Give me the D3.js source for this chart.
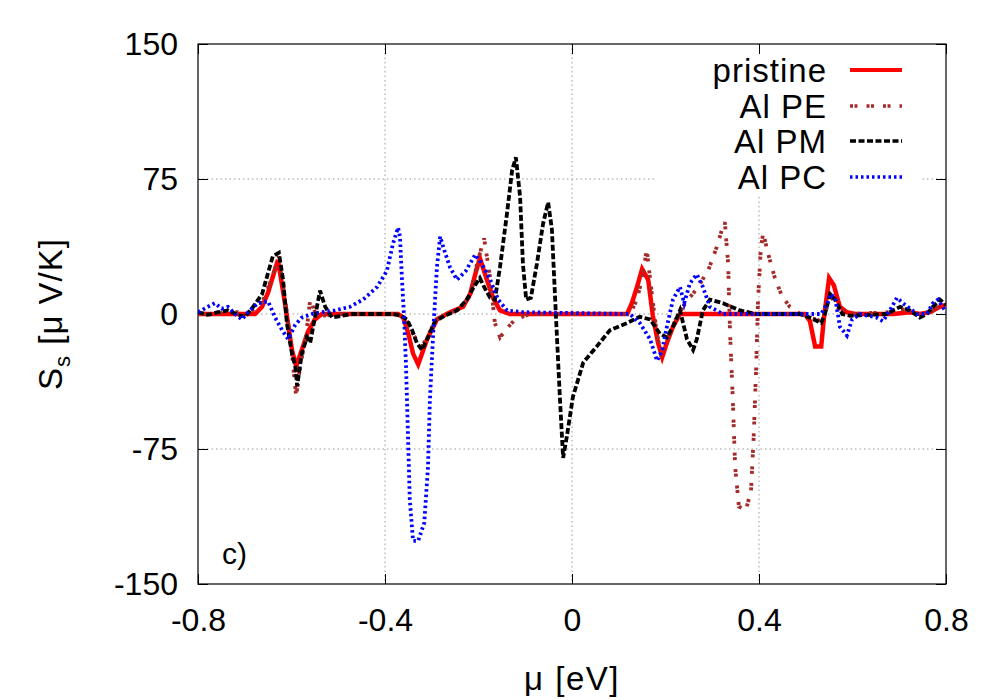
<!DOCTYPE html>
<html>
<head>
<meta charset="utf-8">
<script src="https://cdn.jsdelivr.net/npm/d3@7"></script>
<style>
  html, body { margin: 0; padding: 0; background: #fff; }
  svg { display: block; font-family: "Liberation Sans", Arial, Helvetica, sans-serif; }
</style>
</head>
<body>
<svg id="chart" width="1000" height="700"></svg>
<script>
// ---- data ----
const xTicks = [-0.8, -0.4, 0, 0.4, 0.8];
const yTicks = [-150, -75, 0, 75, 150];
const seriesNames = ["pristine", "Al PE", "Al PM", "Al PC"];

const muPristine = [-0.800,-0.678,-0.663,-0.650,-0.642,-0.629,-0.614,-0.599,-0.590,-0.578,-0.565,-0.550,-0.535,-0.372,-0.361,-0.351,-0.340,-0.329,-0.310,-0.289,-0.261,-0.233,-0.218,-0.207,-0.197,-0.182,-0.169,-0.154,-0.133,0.118,0.128,0.139,0.150,0.163,0.173,0.184,0.193,0.203,0.216,0.231,0.498,0.509,0.520,0.533,0.539,0.550,0.560,0.573,0.588,0.605,0.687,0.723,0.744,0.766,0.787,0.800];
const sPristine  = [0,0,4,12,19,30,6,-20,-29,-20,-10,-3,0,0,-2,-10,-22,-28,-14,-3,1,4,11,22,31,19,9,2,0,0,6,15,25,19,-1,-16,-24,-16,-7,0,0,-4,-18,-18,-2,20,16,4,1,0,0,1,0,1,4,5];

const muPE = [-0.800,-0.732,-0.689,-0.663,-0.642,-0.627,-0.612,-0.599,-0.590,-0.582,-0.569,-0.560,-0.548,-0.535,-0.496,-0.368,-0.353,-0.332,-0.321,-0.308,-0.291,-0.265,-0.240,-0.218,-0.203,-0.188,-0.175,-0.165,-0.154,-0.139,-0.122,-0.090,0.124,0.139,0.150,0.160,0.169,0.180,0.190,0.203,0.220,0.242,0.267,0.291,0.308,0.321,0.327,0.334,0.338,0.344,0.349,0.357,0.372,0.383,0.389,0.394,0.398,0.404,0.409,0.419,0.434,0.449,0.466,0.488,0.509,0.533,0.546,0.554,0.569,0.595,0.680,0.702,0.727,0.755,0.778,0.800];
const sPE  = [0,1,1,6,20,32,5,-22,-46,-30,-12,8,0,-1,0,0,-4,-15,-18,-12,-3,0,3,10,28,42,20,-5,-13,-8,-3,0,0,8,20,36,15,-8,-22,-15,-4,6,14,24,36,47,51,28,-10,-48,-85,-107,-109,-98,-66,-29,8,37,45,34,20,10,4,0,-2,-4,4,10,3,0,1,3,1,-1,3,6];

const muPM = [-0.800,-0.779,-0.757,-0.736,-0.714,-0.699,-0.682,-0.663,-0.650,-0.640,-0.627,-0.618,-0.610,-0.599,-0.592,-0.588,-0.584,-0.578,-0.567,-0.560,-0.550,-0.539,-0.528,-0.513,-0.492,-0.471,-0.383,-0.366,-0.353,-0.342,-0.332,-0.321,-0.308,-0.293,-0.272,-0.246,-0.225,-0.210,-0.197,-0.188,-0.175,-0.165,-0.154,-0.139,-0.128,-0.120,-0.111,-0.105,-0.098,-0.088,-0.075,-0.062,-0.051,-0.043,-0.034,-0.026,-0.019,-0.011,0.002,0.024,0.053,0.081,0.118,0.145,0.167,0.188,0.203,0.218,0.231,0.246,0.259,0.267,0.280,0.295,0.323,0.359,0.396,0.488,0.509,0.533,0.541,0.552,0.563,0.578,0.595,0.674,0.687,0.702,0.723,0.744,0.759,0.772,0.787,0.800];
const sPM  = [1,-0.5,1,2,-0.5,-1.5,4,11,23,32,34,19,-5,-22,-29,-40,-33,-22,-13,-16,-2,13,4,-2,-1,0,0,-1,-3,-9,-16,-20,-13,-4,-1,2,8,15,20,15,9,8,26,56,80,87,65,28,8,9,28,50,62,47,-3,-46,-80,-68,-46,-27,-18,-9,-5,-1.5,-3,-11,-13,-6,2,-14,-20,-14,2,8,6,2,0,0,-2,-5,0,11,8,0,-1,0,2,4,2,-2,0,4,8,5];

const muPC = [-0.800,-0.779,-0.764,-0.749,-0.736,-0.721,-0.706,-0.693,-0.672,-0.650,-0.635,-0.620,-0.607,-0.592,-0.578,-0.556,-0.535,-0.507,-0.475,-0.447,-0.417,-0.396,-0.383,-0.372,-0.368,-0.364,-0.359,-0.355,-0.351,-0.347,-0.340,-0.329,-0.316,-0.308,-0.304,-0.297,-0.289,-0.282,-0.274,-0.261,-0.246,-0.227,-0.207,-0.193,-0.175,-0.158,-0.139,-0.105,0.124,0.145,0.167,0.182,0.193,0.203,0.216,0.231,0.240,0.252,0.267,0.280,0.295,0.323,0.533,0.546,0.552,0.563,0.573,0.588,0.599,0.616,0.652,0.665,0.680,0.695,0.708,0.723,0.738,0.759,0.772,0.783,0.800];
const sPC  = [1,4,6,3,4,0,-3,1,6,7,-2,-9,-14,-6,-2,0,1,2,4,8,15,24,39,48,43,21,-3,-29,-66,-103,-126,-126,-116,-85,-48,-11,26,43,36,26,19,24,33,28,19,8,2,1,0,-5,-14,-26,-20,-7,8,15,6,17,22,15,4,0,0,6,11,9,-7,-12,-3,0,-2,-4,2,9,6,3,0,0,6,8,1];

// ---- layout ----
const svg = d3.select("#chart");
const L = 198, R = 946, T = 44, B = 584;
const x = d3.scaleLinear().domain([-0.8, 0.8]).range([L, R]);
const y = d3.scaleLinear().domain([-150, 150]).range([B, T]);
const FS = 32;
const FS2 = 33;

svg.append("rect").attr("width", 1000).attr("height", 700).attr("fill", "#fff");

// grid
const grid = svg.append("g").attr("stroke", "#999").attr("stroke-width", 1).attr("stroke-dasharray", "1.5,3");
xTicks.filter(d => d > -0.8 && d < 0.8).forEach(d => {
  grid.append("line").attr("x1", x(d)).attr("x2", x(d)).attr("y1", T).attr("y2", B);
});
yTicks.filter(d => d > -150 && d < 150).forEach(d => {
  grid.append("line").attr("x1", L).attr("x2", R).attr("y1", y(d)).attr("y2", y(d));
});

// legend background (opaque)
svg.append("rect").attr("x", 655).attr("y", T + 1).attr("width", 267).attr("height", 151).attr("fill", "#fff");

// axes
const fmt = d => String(d);
function styleAxis(g) {
  g.selectAll(".domain").remove();
  g.selectAll(".tick line").attr("stroke", "#000").attr("stroke-width", 1);
  g.selectAll("text").attr("font-size", FS).attr("fill", "#000").attr("font-family", "Liberation Sans, Arial, sans-serif");
}
svg.append("g").attr("transform", `translate(${L},0)`)
  .call(d3.axisLeft(y).tickValues(yTicks).tickFormat(fmt).tickSize(-10).tickSizeOuter(0).tickPadding(20))
  .call(styleAxis);
svg.append("g").attr("transform", `translate(${R},0)`)
  .call(d3.axisRight(y).tickValues(yTicks).tickFormat("").tickSize(-10).tickSizeOuter(0))
  .call(styleAxis);
svg.append("g").attr("transform", `translate(0,${B})`)
  .call(d3.axisBottom(x).tickValues(xTicks).tickFormat(fmt).tickSize(-10).tickSizeOuter(0).tickPadding(24))
  .call(styleAxis);
svg.append("g").attr("transform", `translate(0,${T})`)
  .call(d3.axisTop(x).tickValues(xTicks).tickFormat("").tickSize(-10).tickSizeOuter(0))
  .call(styleAxis);

// frame
svg.append("rect").attr("x", L).attr("y", T).attr("width", R - L).attr("height", B - T)
  .attr("fill", "none").attr("stroke", "#000").attr("stroke-width", 1.2);

// series
const styles = [
  { color: "#ff0000", width: 4.5, dash: null },
  { color: "#a52a2a", width: 3.8, dash: "3,1.5,3,9" },
  { color: "#000000", width: 3.8, dash: "6,2.5" },
  { color: "#0000ff", width: 3.8, dash: "2.5,3" }
];
const seriesData = [
  muPristine.map((m, i) => [m, sPristine[i]]),
  muPE.map((m, i) => [m, sPE[i]]),
  muPM.map((m, i) => [m, sPM[i]]),
  muPC.map((m, i) => [m, sPC[i]])
];
const line = d3.line().x(d => x(d[0])).y(d => y(d[1]));
svg.append("clipPath").attr("id", "clip").append("rect")
  .attr("x", L).attr("y", T).attr("width", R - L).attr("height", B - T);
const plot = svg.append("g").attr("clip-path", "url(#clip)");
seriesData.forEach((data, i) => {
  plot.append("path").datum(data)
    .attr("d", line)
    .attr("fill", "none")
    .attr("stroke", styles[i].color)
    .attr("stroke-width", styles[i].width)
    .attr("stroke-linejoin", "miter")
    .attr("stroke-dasharray", styles[i].dash);
});

// legend
const legY = [70, 106, 141, 177];
seriesNames.forEach((name, i) => {
  svg.append("text").attr("x", 827).attr("y", legY[i]).attr("dy", "0.35em")
    .attr("text-anchor", "end").attr("font-size", FS2).attr("letter-spacing", 1)
    .attr("fill", "#000").text(name);
  svg.append("line").attr("x1", 850).attr("x2", 902).attr("y1", legY[i]).attr("y2", legY[i])
    .attr("stroke", styles[i].color).attr("stroke-width", styles[i].width - 0.5)
    .attr("stroke-dasharray", styles[i].dash);
});

// panel label
svg.append("text").attr("x", 222).attr("y", 553).attr("dy", "0.35em")
  .attr("font-size", 30).attr("fill", "#000").text("c)");

// axis titles
svg.append("text").attr("x", 572).attr("y", 690).attr("text-anchor", "middle")
  .attr("font-size", FS2).attr("letter-spacing", 1.5).attr("fill", "#000").text("μ [eV]");
const yl = svg.append("text").attr("transform", "translate(62,314) rotate(-90)")
  .attr("text-anchor", "middle").attr("font-size", FS2).attr("letter-spacing", 1).attr("fill", "#000");
yl.append("tspan").text("S");
yl.append("tspan").attr("font-size", 22).attr("dy", 8).text("s");
yl.append("tspan").attr("dy", -8).text(" [μ V/K]");
</script>
</body>
</html>
